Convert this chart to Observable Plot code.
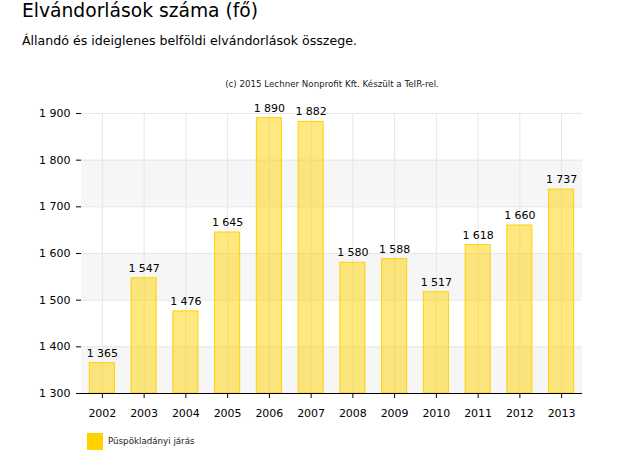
<!DOCTYPE html>
<html><head><meta charset="utf-8">
<script src="https://cdn.jsdelivr.net/npm/d3@7"></script>
<script src="https://cdn.jsdelivr.net/npm/@observablehq/plot@0.6"></script>
<style>
body{margin:0;background:#fff;font-family:"DejaVu Sans",Verdana,sans-serif;}
#wrap{position:relative;width:619px;height:471px;overflow:hidden;}
.t{position:absolute;white-space:nowrap;color:#000;}
#chart{position:absolute;left:0;top:0;}
</style></head>
<body><div id="wrap">
<div class="t" style="left:22px;top:0px;font-size:18.7px;">Elvándorlások száma (fő)</div>
<div class="t" style="left:22px;top:33px;font-size:12.6px;">Állandó és ideiglenes belföldi elvándorlások összege.</div>
<div class="t" style="left:0;width:664px;text-align:center;top:79px;font-size:8.7px;color:#222;">(c) 2015 Lechner Nonprofit Kft. Készült a TeIR-rel.</div>
<div class="t" style="left:87px;top:433px;width:16px;height:17px;background:#ffd200;"></div>
<div class="t" style="left:108px;top:436px;font-size:8.7px;color:#222;">Püspökladányi járás</div>
<div id="chart"></div>
</div>
<script>
const years = ["2002","2003","2004","2005","2006","2007","2008","2009","2010","2011","2012","2013"];
const values = [1365,1547,1476,1645,1890,1882,1580,1588,1517,1618,1660,1737];
const yTicks = [1300,1400,1500,1600,1700,1800,1900];
const seriesName = "Püspökladányi járás";

const data = years.map((y,i)=>({year:y, value:values[i]}));
const fmt = v => d3.format(",")(v).replace(/,/g," ");
const bands = [];
for (let i=0;i<yTicks.length-1;i+=2) bands.push({y1:yTicks[i], y2:yTicks[i+1]});

const plot = Plot.plot({
  width:619, height:471,
  marginLeft:81, marginRight:37, marginTop:113, marginBottom:78,
  style:{fontFamily:"DejaVu Sans, Verdana, sans-serif", fontSize:"11px", color:"#000", background:"transparent"},
  x:{type:"band", domain:years, paddingInner:0.4, paddingOuter:0.2, round:false, label:null},
  y:{domain:[1300,1900], label:null},
  marks:[
    Plot.rect(bands,{y1:"y1",y2:"y2",fill:"#f6f6f6"}),
    Plot.gridY(yTicks,{stroke:"#e6e6e6",strokeOpacity:1}),
    Plot.gridX(years,{stroke:"#e6e6e6",strokeOpacity:1}),
    Plot.barY(data,{x:"year",y1:1300,y2:"value",fill:"#ffd200",fillOpacity:0.5,stroke:"#ffd200",strokeWidth:1}),
    Plot.text(data,{x:"year",y:"value",text:d=>fmt(d.value),dy:-10,fontSize:11,fill:"#000"}),
    Plot.axisY({ticks:yTicks,tickFormat:fmt,tickSize:5,tickPadding:6,fontSize:11,stroke:"#000"}),
    Plot.axisX({tickSize:5,tickPadding:11,fontSize:11}),
    Plot.ruleY([1300],{stroke:"#000"}),
    Plot.ruleX([0],{x:()=>0, stroke:"#000"})
  ]
});
document.getElementById("chart").appendChild(plot);
</script>
</body></html>
